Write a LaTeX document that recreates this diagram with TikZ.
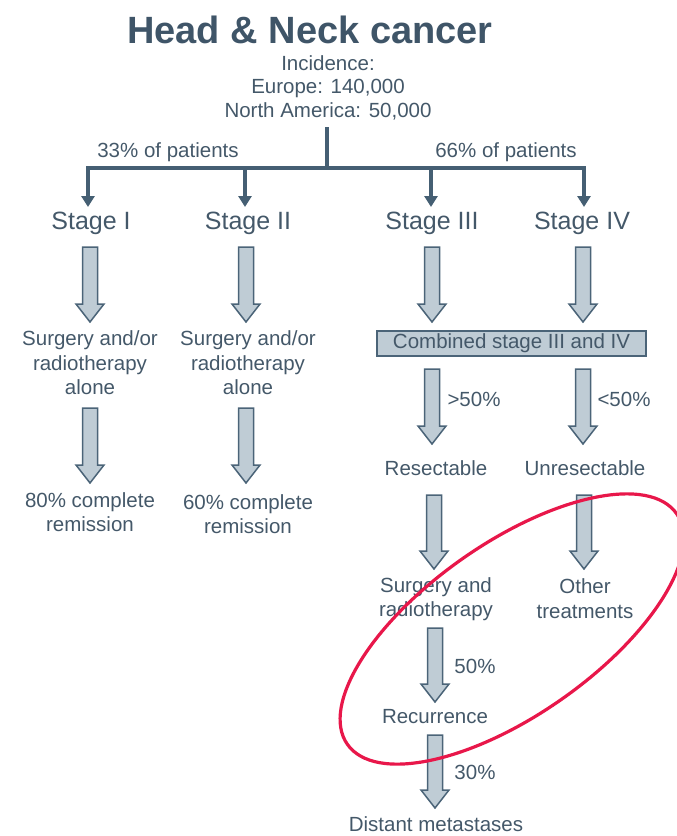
\documentclass[tikz,border=0pt]{standalone}
\usepackage{fontspec}
\setmainfont{Liberation Sans}
\usetikzlibrary{arrows.meta,calc}
\definecolor{textc}{RGB}{68,88,105}
\definecolor{titlec}{RGB}{63,85,104}
\definecolor{linec}{RGB}{69,95,115}
\definecolor{afill}{RGB}{191,204,213}
\definecolor{aborder}{RGB}{75,100,120}
\definecolor{redc}{RGB}{232,23,74}
\newcommand{\blockarr}[2]{%
  \draw[barrowstyle] let \p1=(#1), \p2=(#2) in
    (\x1-7.5pt,\y1) -- (\x1+7.5pt,\y1) -- (\x1+7.5pt,\y2+18pt) -- (\x1+14pt,\y2+18pt)
    -- (\x1,\y2) -- (\x1-14pt,\y2+18pt) -- (\x1-7.5pt,\y2+18pt) -- cycle;}
\begin{document}
\begin{tikzpicture}[x=1pt,y=-1pt,
  txt/.style={text=textc,font=\fontsize{20.5}{24.5}\selectfont,align=center,inner sep=0pt},
  stagetxt/.style={text=textc,font=\fontsize{25}{30}\selectfont,inner sep=0pt},
  tree/.style={draw=linec,line width=4pt,line join=miter},
  treetip/.style={-{Triangle[width=13pt,length=11pt]}},
  barrowstyle/.style={draw=aborder,fill=afill,line width=1.5pt,line join=miter},
  combbox/.style={draw=aborder,fill=afill,line width=1.5pt,minimum width=269pt,minimum height=25pt,inner sep=0pt,text=textc,font=\fontsize{20.5}{24}\selectfont},
  redell/.style={draw=redc,line width=3.2pt}]
\useasboundingbox (0,0) rectangle (677,836);
% title and incidence
\node[text=titlec,font=\bfseries\fontsize{38}{44}\selectfont,inner sep=0pt] (title) at (310,30) {Head \& Neck cancer};
\node[txt,font=\fontsize{20.5}{23.5}\selectfont] (inc) at (328,87.5) {Incidence:\\Europe: 140,000\\North America: 50,000};
% tree
\coordinate (root) at (327,127);
\coordinate (hub) at (327,168);
\coordinate (hl) at (88,168);
\coordinate (h2) at (245,168);
\coordinate (h3) at (431,168);
\coordinate (hr) at (584,168);
\coordinate (t1) at (88,207);
\coordinate (t2) at (245,207);
\coordinate (t3) at (431,207);
\coordinate (t4) at (584,207);
\draw[tree] (root) -- (hub);
\draw[tree,{Triangle[width=13pt,length=11pt]}-{Triangle[width=13pt,length=11pt]}] (t1) -- (hl) -- (hr) -- (t4);
\draw[tree,treetip] (h2) -- (t2);
\draw[tree,treetip] (h3) -- (t3);
\node[txt] (p33) at (168,152) {33\% of patients};
\node[txt] (p66) at (506,152) {66\% of patients};
% stages
\node[stagetxt] (s1) at (91,223) {Stage I};
\node[stagetxt] (s2) at (248,223) {Stage II};
\node[stagetxt] (s3) at (432,223) {Stage III};
\node[stagetxt] (s4) at (582,223) {Stage IV};
% texts
\node[txt] (surg1) at (90,363) {Surgery and/or\\radiotherapy\\alone};
\node[txt] (surg2) at (248,363) {Surgery and/or\\radiotherapy\\alone};
\node[txt] (rem1) at (90,512) {80\% complete\\remission};
\node[txt] (rem2) at (248,514) {60\% complete\\remission};
\node[combbox] (comb) at (511.5,343.5) {Combined stage III and IV};
\node[txt] (gt50) at (474,399) {>50\%};
\node[txt] (lt50) at (624,399) {<50\%};
\node[txt] (res) at (436,468) {Resectable};
\node[txt] (unres) at (585,468) {Unresectable};
\node[txt] (sr) at (436,599) {Surgery and\\radiotherapy};
\node[txt] (oth) at (585,598.5) {Other\\treatments};
\node[txt] (p50) at (475,666) {50\%};
\node[txt] (rec) at (435,717) {Recurrence};
\node[txt] (p30) at (475,772) {30\%};
\node[txt] (dist) at (436,824) {Distant metastases};
% block arrows
\coordinate (b1t) at (90,247);  \coordinate (b1b) at (90,322);
\coordinate (b2t) at (246,247); \coordinate (b2b) at (246,322);
\coordinate (b3t) at (432,247); \coordinate (b3b) at (432,322);
\coordinate (b4t) at (583,247); \coordinate (b4b) at (583,322);
\coordinate (b5t) at (90,408);  \coordinate (b5b) at (90,483);
\coordinate (b6t) at (246,408); \coordinate (b6b) at (246,483);
\coordinate (b7t) at (432,369); \coordinate (b7b) at (432,444);
\coordinate (b8t) at (583,369); \coordinate (b8b) at (583,444);
\coordinate (b9t) at (434,495); \coordinate (b9b) at (434,569);
\coordinate (b10t) at (584,495); \coordinate (b10b) at (584,569);
\coordinate (b11t) at (435,628); \coordinate (b11b) at (435,702);
\coordinate (b12t) at (435,735); \coordinate (b12b) at (435,808);
\blockarr{b1t}{b1b}
\blockarr{b2t}{b2b}
\blockarr{b3t}{b3b}
\blockarr{b4t}{b4b}
\blockarr{b5t}{b5b}
\blockarr{b6t}{b6b}
\blockarr{b7t}{b7b}
\blockarr{b8t}{b8b}
\blockarr{b9t}{b9b}
\blockarr{b10t}{b10b}
\blockarr{b11t}{b11b}
\blockarr{b12t}{b12b}
% red ellipse
\coordinate (ec) at (512,629);
\draw[redell,rotate around={35:(ec)}] (ec) ellipse [x radius=201, y radius=86];
\end{tikzpicture}
\end{document}
